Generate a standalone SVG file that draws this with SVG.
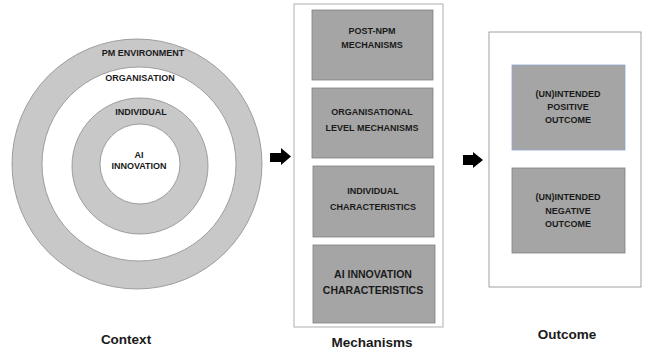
<svg xmlns="http://www.w3.org/2000/svg" width="648" height="352" viewBox="0 0 648 352">
<defs>
<style>
.ring{fill:#c8c8c8;stroke:#8c8c8c;stroke-width:0.8}
.hole{fill:#ffffff;stroke:#8c8c8c;stroke-width:0.8}
.panel{fill:#ffffff;stroke:#bdbdbd;stroke-width:1.2}
.panel2{fill:#ffffff;stroke:#8a8a8a;stroke-width:0.8}
.box{fill:#a5a5a5;stroke:#7f7f7f;stroke-width:0.8}
.t{font-family:"Liberation Sans",Arial,sans-serif;font-weight:bold;fill:#1a1a1a;text-anchor:middle}
.s{font-size:9px}
.m{font-size:10.5px}
.l{font-size:13.5px}
.arrow{fill:#000000}
</style>
</defs>
<rect width="648" height="352" fill="#ffffff"/>
<g id="context">
<g id="pm-environment">
<circle class="ring" cx="137" cy="164" r="125"/>
<text class="t s" x="143" y="56">PM ENVIRONMENT</text>
</g>
<g id="organisation">
<circle class="hole" cx="139" cy="164" r="97"/>
<text class="t s" x="140" y="81">ORGANISATION</text>
</g>
<g id="individual">
<circle class="ring" cx="140" cy="166" r="68"/>
<text class="t s" x="141" y="115">INDIVIDUAL</text>
</g>
<g id="ai-innovation">
<circle class="hole" cx="140" cy="164" r="40"/>
<text class="t s" x="139" y="158">AI</text>
<text class="t s" x="139" y="169">INNOVATION</text>
</g>
<text class="t l" x="126" y="344">Context</text>
</g>
<g id="mechanisms">
<rect class="panel" x="294" y="4" width="149" height="323"/>
<g id="post-npm">
<rect class="box" x="312" y="10" width="121" height="70"/>
<text class="t s" x="372" y="34">POST-NPM</text>
<text class="t s" x="372" y="48">MECHANISMS</text>
</g>
<g id="org-level">
<rect class="box" x="312" y="88" width="121" height="70"/>
<text class="t s" x="372" y="115">ORGANISATIONAL</text>
<text class="t s" x="372" y="131">LEVEL MECHANISMS</text>
</g>
<g id="individual-char">
<rect class="box" x="313" y="166" width="121" height="71"/>
<text class="t s" x="373" y="194">INDIVIDUAL</text>
<text class="t s" x="373" y="210">CHARACTERISTICS</text>
</g>
<g id="ai-char">
<rect class="box" x="313" y="245" width="122" height="78"/>
<text class="t m" x="373" y="278">AI INNOVATION</text>
<text class="t m" x="373" y="294">CHARACTERISTICS</text>
</g>
<text class="t l" x="372" y="347">Mechanisms</text>
</g>
<g id="outcome">
<rect class="panel2" x="489" y="32" width="152" height="255"/>
<g id="positive">
<rect class="box" x="512" y="65" width="113" height="85" style="stroke:#8ea6cf"/>
<text class="t s" x="568" y="97">(UN)INTENDED</text>
<text class="t s" x="568" y="110">POSITIVE</text>
<text class="t s" x="568" y="123">OUTCOME</text>
</g>
<g id="negative">
<rect class="box" x="512" y="168" width="113" height="85"/>
<text class="t s" x="568" y="200">(UN)INTENDED</text>
<text class="t s" x="568" y="214">NEGATIVE</text>
<text class="t s" x="568" y="227">OUTCOME</text>
</g>
<text class="t l" x="567" y="339">Outcome</text>
</g>
<g id="connectors">
<polygon class="arrow" points="270,153 281,153 281,148 291,156.5 281,165 281,162 270,162"/>
<polygon class="arrow" points="463,155 473,155 473,152 483,160 473,168 473,165 463,165"/>
</g>
</svg>
